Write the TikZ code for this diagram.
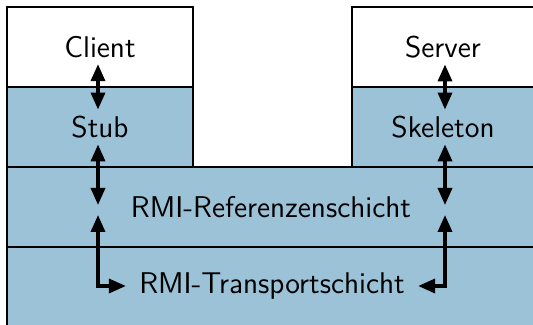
\documentclass[tikz,border=0pt]{standalone}
\usetikzlibrary{arrows.meta}
\definecolor{layerblue}{RGB}{155,194,215}
\pgfdeclarelayer{bg}
\pgfsetlayers{bg,main}

\begin{document}
\begin{tikzpicture}[x=0.5pt, y=0.5pt,
    txt/.style={font=\sffamily\fontsize{15}{18}\selectfont, inner sep=3pt},
    box/.style={draw, line width=0.6pt},
    arr/.style={line width=1.7pt, {Triangle[length=8.5pt, width=7pt]}-{Triangle[length=8.5pt, width=7pt]}}]
    \useasboundingbox (0, 0) rectangle (533, 325);

    \node[txt] (client) at (100, 278) {Client};
    \node[txt] (stub) at (100, 198) {Stub};
    \node[txt] (server) at (443, 278) {Server};
    \node[txt] (skeleton) at (443, 198) {Skeleton};
    \node[txt] (ref) at (271, 118) {RMI-Referenzenschicht};
    \node[txt, inner xsep=6.5pt] (transport) at (272, 39) {RMI-Transportschicht};

    \coordinate (lup) at (98, 120);
    \coordinate (ldown) at (98, 110);
    \coordinate (rup) at (445, 120);
    \coordinate (rdown) at (445, 110);

    \begin{pgfonlayer}{bg}
        \draw[box, fill=white] (7, 318) rectangle (193, 238);
        \draw[box, fill=layerblue] (7, 238) rectangle (193, 158);
        \draw[box, fill=white] (352, 318) rectangle (540, 238);
        \draw[box, fill=layerblue] (352, 238) rectangle (540, 158);
        \draw[box, fill=layerblue] (7, 158) rectangle (540, 78);
        \draw[box, fill=layerblue] (7, 78) rectangle (540, -5);
    \end{pgfonlayer}

    \draw[arr] (client.south -| lup) -- (stub.north -| lup);
    \draw[arr] (stub.south -| lup) -- (lup);
    \draw[arr] (ldown) |- (transport.west);
    \draw[arr] (server.south -| rup) -- (skeleton.north -| rup);
    \draw[arr] (skeleton.south -| rup) -- (rup);
    \draw[arr] (rdown) |- (transport.east);
\end{tikzpicture}
\end{document}
